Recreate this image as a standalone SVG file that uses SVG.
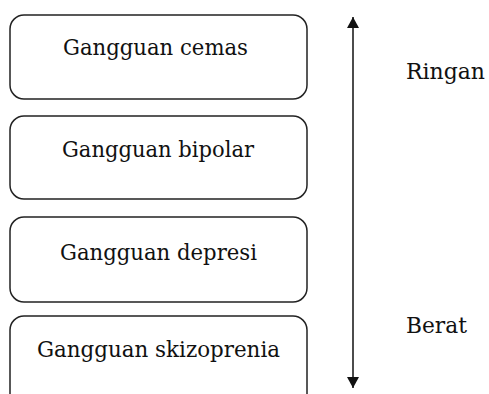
<svg xmlns="http://www.w3.org/2000/svg" width="489" height="394" viewBox="0 0 489 394">
<style>
.box{fill:#fff;stroke:#222;stroke-width:1.5}
.t{font-family:'DejaVu Serif',serif;font-size:21.5px;fill:#111}
</style>
<defs>
<marker id="ah" viewBox="0 0 11 12" refX="11" refY="6" markerWidth="11" markerHeight="12" markerUnits="userSpaceOnUse" orient="auto-start-reverse">
<path d="M0,0 L11,6 L0,12 z" fill="#111"/>
</marker>
</defs>
<rect width="489" height="394" fill="#fff"/>
<g id="node1"><rect class="box" x="10" y="15" width="297" height="84" rx="14"/><text class="t" x="63" y="55" textLength="185" lengthAdjust="spacingAndGlyphs">Gangguan cemas</text></g>
<g id="node2"><rect class="box" x="10" y="116" width="297" height="83" rx="14"/><text class="t" x="62" y="157" textLength="192" lengthAdjust="spacingAndGlyphs">Gangguan bipolar</text></g>
<g id="node3"><rect class="box" x="10" y="217" width="297" height="85" rx="14"/><text class="t" x="60" y="260" textLength="197" lengthAdjust="spacingAndGlyphs">Gangguan depresi</text></g>
<g id="node4"><rect class="box" x="10" y="316" width="297" height="100" rx="14"/><text class="t" x="37" y="357" textLength="243" lengthAdjust="spacingAndGlyphs">Gangguan skizoprenia</text></g>
<g id="connectors"><line x1="353" y1="17" x2="353" y2="388" stroke="#111" stroke-width="1.5" marker-start="url(#ah)" marker-end="url(#ah)"/></g>
<g id="labels"><text class="t" x="406" y="79" textLength="79" lengthAdjust="spacingAndGlyphs">Ringan</text><text class="t" x="406" y="333" textLength="61" lengthAdjust="spacingAndGlyphs">Berat</text></g>
</svg>
